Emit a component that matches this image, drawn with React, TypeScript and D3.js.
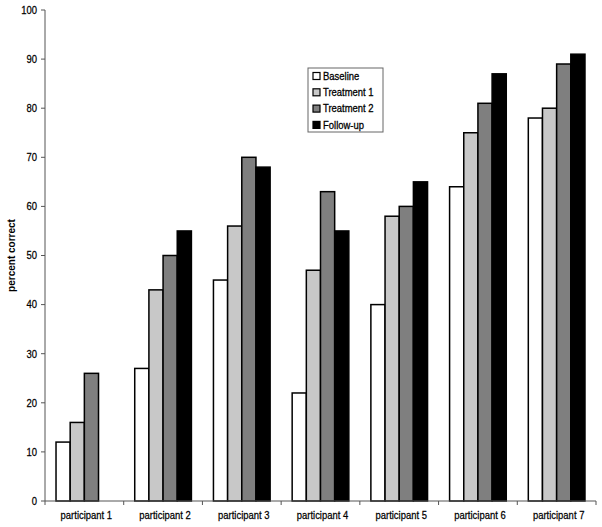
import React from "react";
import * as d3 from "d3";

const categories = ["participant 1", "participant 2", "participant 3", "participant 4", "participant 5", "participant 6", "participant 7"];
const seriesNames = ["Baseline", "Treatment 1", "Treatment 2", "Follow-up"];
const baseline = [12, 27, 45, 22, 40, 64, 78];
const treatment1 = [16, 43, 56, 47, 58, 75, 80];
const treatment2 = [26, 50, 70, 63, 60, 81, 89];
const followUp: (number | null)[] = [null, 55, 68, 55, 65, 87, 91];
const yTicks = [0, 10, 20, 30, 40, 50, 60, 70, 80, 90, 100];
const colors = ["#ffffff", "#c8c8c8", "#7f7f7f", "#000000"];

export default function App() {
  const W = 602, H = 527;
  const left = 45, right = 596, top = 10, bottom = 501;
  const x = d3.scaleBand<string>().domain(categories).range([left, right]).paddingInner(0).paddingOuter(0);
  const y = d3.scaleLinear().domain([0, 100]).range([bottom, top]);
  const series = [baseline, treatment1, treatment2, followUp];
  const groupW = x.bandwidth() * 0.72;
  const inner = d3.scaleBand<number>().domain([0, 1, 2, 3]).range([0, groupW]);
  const font = "'Liberation Sans', Arial, sans-serif";
  const sx = 0.86;
  return (
    <svg width={W} height={H} style={{ position: "absolute", left: 0, top: 0, background: "#fff" }}>
      <rect x={0} y={0} width={W} height={H} fill="#fff" />
      {categories.map((c, i) =>
        series.map((s, k) => {
          const v = s[i];
          if (v == null) return null;
          const bx = (x(c) as number) + (x.bandwidth() - groupW) / 2 + (inner(k) as number);
          return (
            <rect key={c + k} x={bx} y={y(v)} width={inner.bandwidth()} height={bottom - y(v)} fill={colors[k]} stroke="#000" strokeWidth={1.5} />
          );
        })
      )}
      <line x1={left} x2={left} y1={top} y2={bottom} stroke="#555" strokeWidth={1} />
      <line x1={left} x2={right} y1={bottom} y2={bottom} stroke="#555" strokeWidth={1} />
      {yTicks.map((t) => (
        <g key={t}>
          <line x1={left - 4} x2={left} y1={y(t)} y2={y(t)} stroke="#555" />
          <text transform={`translate(37,${y(t)}) scale(${sx},1)`} dy="0.35em" textAnchor="end" fontFamily={font} fontSize={11} fill="#000" stroke="#000" strokeWidth={0.25}>{t}</text>
        </g>
      ))}
      {categories.map((c, i) => (
        <g key={c}>
          <line x1={(x(c) as number) + x.bandwidth()} x2={(x(c) as number) + x.bandwidth()} y1={bottom} y2={bottom + 4} stroke="#555" />
          <text transform={`translate(${(x(c) as number) + x.bandwidth() / 2 + 2},515) scale(${sx},1)`} dy="0.35em" textAnchor="middle" fontFamily={font} fontSize={11} fill="#000" stroke="#000" strokeWidth={0.25}>{c}</text>
        </g>
      ))}
      <line x1={left} x2={left} y1={bottom} y2={bottom + 4} stroke="#555" />
      <text transform={`translate(11,${(top + bottom) / 2}) rotate(-90)`} textAnchor="middle" dy="0.35em" fontFamily={font} fontSize={10} fontWeight="bold">percent correct</text>
      <g>
        <rect x={308} y={68} width={75} height={64} fill="#fff" stroke="#666" strokeWidth={1} />
        {seriesNames.map((n, k) => (
          <g key={n} transform={`translate(313,${76 + k * 16.3})`}>
            <rect x={0} y={-3.5} width={7} height={7} fill={colors[k]} stroke="#000" strokeWidth={1.2} />
            <text transform={`translate(10,0) scale(${sx},1)`} dy="0.35em" fontFamily={font} fontSize={11} fill="#000" stroke="#000" strokeWidth={0.3}>{n}</text>
          </g>
        ))}
      </g>
    </svg>
  );
}
